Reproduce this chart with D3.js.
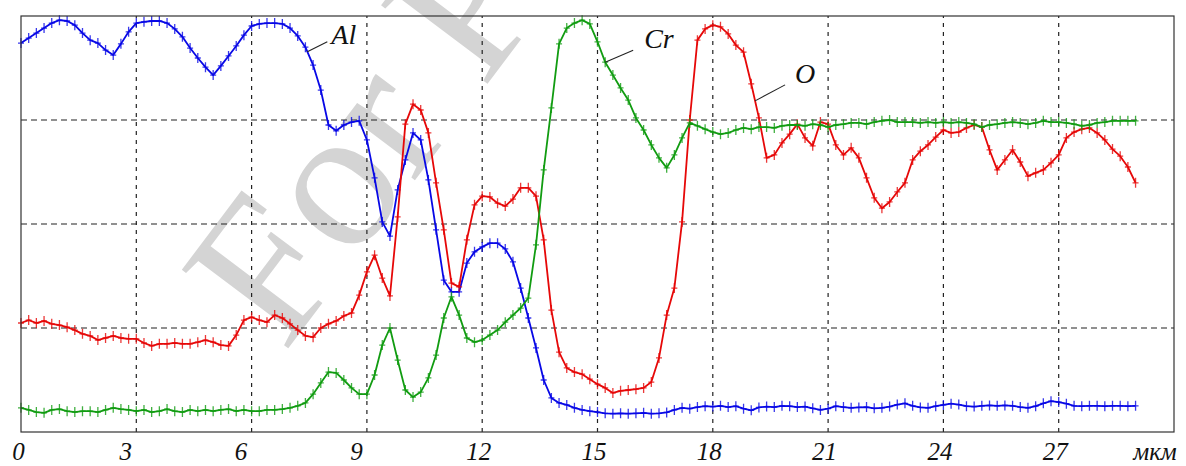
<!DOCTYPE html>
<html>
<head>
<meta charset="utf-8">
<script src="https://cdn.jsdelivr.net/npm/d3@7"></script>
<style>
  html, body { margin: 0; padding: 0; background: #fff; }
  svg { display: block; }
</style>
</head>
<body>
<svg id="chart" width="1186" height="466"></svg>
<script>
// Depth of each measurement, µm
const depth = [
  0.0, 0.2, 0.4, 0.6, 0.8, 1.0, 1.2, 1.4, 1.6, 1.8,
  2.0, 2.2, 2.4, 2.6, 2.8, 3.0, 3.2, 3.4, 3.6, 3.8,
  4.0, 4.2, 4.4, 4.6, 4.8, 5.0, 5.2, 5.4, 5.6, 5.8,
  6.0, 6.2, 6.4, 6.6, 6.8, 7.0, 7.2, 7.4, 7.6, 7.8,
  8.0, 8.2, 8.4, 8.6, 8.8, 9.0, 9.2, 9.4, 9.6, 9.8,
  10.0, 10.2, 10.4, 10.6, 10.8, 11.0, 11.2, 11.4, 11.6, 11.8,
  12.0, 12.2, 12.4, 12.6, 12.8, 13.0, 13.2, 13.4, 13.6, 13.8,
  14.0, 14.2, 14.4, 14.6, 14.8, 15.0, 15.2, 15.4, 15.6, 15.8,
  16.0, 16.2, 16.4, 16.6, 16.8, 17.0, 17.2, 17.4, 17.6, 17.8,
  18.0, 18.2, 18.4, 18.6, 18.8, 19.0, 19.2, 19.4, 19.6, 19.8,
  20.0, 20.2, 20.4, 20.6, 20.8, 21.0, 21.2, 21.4, 21.6, 21.8,
  22.0, 22.2, 22.4, 22.6, 22.8, 23.0, 23.2, 23.4, 23.6, 23.8,
  24.0, 24.2, 24.4, 24.6, 24.8, 25.0, 25.2, 25.4, 25.6, 25.8,
  26.0, 26.2, 26.4, 26.6, 26.8, 27.0, 27.2, 27.4, 27.6, 27.8,
  28.0, 28.2, 28.4, 28.6, 28.8, 29.0
];

// Relative signal intensity, % of full scale
const aluminium = [
  93.5, 94.7, 95.9, 97.1, 98.3, 99.0, 98.8, 97.8, 95.9, 94.2,
  93.5, 91.8, 90.6, 93.3, 96.2, 98.3, 98.6, 98.8, 98.8, 98.3,
  96.9, 95.0, 92.3, 89.9, 87.7, 85.8, 88.0, 90.4, 92.8, 95.4,
  97.6, 98.1, 98.3, 98.3, 98.1, 97.1, 95.2, 92.5, 88.2, 82.2,
  73.8, 72.4, 73.8, 74.5, 74.8, 70.2, 61.1, 50.5, 47.1, 58.2,
  65.4, 71.9, 70.2, 60.6, 48.6, 36.5, 33.7, 33.7, 40.6, 43.3,
  44.5, 45.4, 45.4, 44.0, 40.9, 34.6, 27.4, 20.2, 12.5, 8.2,
  7.0, 6.5, 5.8, 5.3, 5.0, 4.8, 4.5, 4.4, 4.5, 4.4,
  4.5, 4.6, 4.4, 4.5, 4.7, 5.3, 5.8, 5.6, 6.0, 6.2,
  6.1, 6.3, 6.0, 6.2, 5.6, 5.2, 5.9, 6.1, 6.0, 6.3,
  6.2, 6.0, 6.1, 5.7, 5.3, 5.6, 6.2, 6.0, 5.8, 5.9,
  6.0, 5.7, 5.8, 6.1, 6.6, 6.9, 6.3, 5.9, 5.8, 6.2,
  6.5, 6.8, 6.6, 6.2, 6.1, 6.3, 6.4, 6.3, 6.4, 6.3,
  6.0, 5.8, 6.2, 6.9, 7.4, 7.2, 6.8, 6.3, 6.2, 6.3,
  6.3, 6.2, 6.3, 6.3, 6.2, 6.3
];

const oxygen = [
  26.2, 26.9, 26.2, 26.7, 26.0, 25.7, 25.2, 24.5, 23.6, 23.1,
  22.1, 22.6, 23.1, 22.6, 22.4, 22.4, 21.4, 20.7, 21.2, 21.2,
  21.4, 21.2, 21.2, 21.6, 22.1, 21.6, 20.9, 20.7, 23.3, 26.9,
  27.6, 26.9, 26.4, 28.1, 27.4, 26.0, 24.5, 23.1, 22.8, 25.0,
  26.0, 26.7, 27.9, 28.6, 32.9, 38.5, 42.5, 37.0, 32.7, 51.7,
  74.0, 78.8, 77.4, 71.9, 59.9, 48.6, 35.8, 34.9, 46.2, 54.6,
  56.7, 56.5, 55.0, 54.3, 56.0, 58.7, 58.7, 56.7, 46.2, 29.3,
  19.2, 15.4, 14.4, 13.9, 12.7, 11.5, 10.6, 9.4, 9.9, 10.1,
  10.3, 10.6, 12.0, 17.8, 28.1, 34.6, 50.5, 75.0, 94.2, 96.9,
  97.8, 97.4, 95.7, 93.0, 91.3, 83.7, 75.5, 65.9, 66.6, 69.5,
  71.6, 74.0, 70.7, 68.8, 74.5, 74.0, 69.0, 66.6, 68.3, 65.9,
  61.1, 56.3, 53.8, 55.3, 57.7, 59.9, 65.4, 67.5, 69.0, 70.9,
  72.6, 71.9, 72.1, 73.1, 73.8, 73.3, 67.8, 63.0, 65.4, 67.8,
  64.9, 61.5, 62.3, 63.0, 64.7, 66.6, 70.7, 72.1, 72.8, 73.1,
  71.9, 70.2, 68.0, 66.3, 63.7, 59.9
];

const chromium = [
  5.8, 5.3, 4.8, 4.6, 5.3, 5.5, 5.0, 4.8, 5.0, 5.0,
  4.8, 5.3, 5.8, 5.5, 5.3, 5.0, 5.3, 4.8, 5.0, 5.5,
  5.0, 4.8, 5.3, 5.0, 5.3, 5.0, 5.3, 5.5, 5.0, 5.3,
  5.0, 5.0, 5.3, 5.3, 5.5, 5.8, 6.3, 7.0, 9.1, 11.8,
  14.4, 14.2, 12.5, 10.6, 9.1, 9.1, 13.7, 20.9, 25.0, 17.3,
  10.1, 8.4, 9.6, 13.0, 18.5, 27.4, 32.5, 28.1, 22.6, 21.6,
  22.1, 23.3, 24.5, 26.4, 28.1, 29.8, 32.2, 45.0, 63.0, 77.9,
  93.3, 97.1, 98.3, 99.0, 98.1, 93.8, 88.9, 85.8, 82.7, 79.8,
  75.5, 72.6, 69.0, 65.9, 63.5, 66.6, 70.7, 74.3, 73.6, 72.8,
  72.1, 71.6, 71.9, 72.6, 73.1, 72.8, 73.3, 73.3, 73.1, 73.6,
  73.8, 73.8, 73.6, 74.0, 73.8, 73.3, 73.8, 74.0, 74.3, 74.3,
  74.0, 74.5, 74.8, 75.0, 74.5, 74.5, 74.5, 74.3, 74.5, 74.3,
  74.5, 74.3, 74.5, 74.3, 74.0, 73.3, 73.8, 74.0, 74.3, 74.5,
  74.3, 74.0, 74.3, 74.8, 74.5, 74.5, 74.3, 74.0, 73.6, 73.8,
  74.3, 74.5, 74.8, 74.8, 74.8, 74.8
];

const xTickValues = [0, 3, 6, 9, 12, 15, 18, 21, 24, 27];
const yGridValues = [25, 50, 75];
const unitLabel = "мкм";
const watermarkText = "For Peer Review";

// Element label, colour, and depth where its callout touches the curve
const series = [
  { name: "Al", values: aluminium, color: "#0808e6", calloutAt: 7.45, lead: [20, -10], text: [24, -8] },
  { name: "O",  values: oxygen,    color: "#e60808", calloutAt: 19.1, lead: [30, -16], text: [40, -18] },
  { name: "Cr", values: chromium,  color: "#119c11", calloutAt: 15.2, lead: [28, -12], text: [39, -14] }
];

const svg = d3.select("#chart");
const margin = { left: 21, right: 12, top: 16, bottom: 34 };
const W = 1186, H = 466;

const x = d3.scaleLinear().domain([0, 30]).range([margin.left, W - margin.right]);
const y = d3.scaleLinear().domain([0, 100]).range([H - margin.bottom, margin.top]);

// Watermark behind the plot, clipped to the page
svg.append("defs").append("clipPath").attr("id", "page")
  .append("rect").attr("width", W).attr("height", H);
svg.append("g").attr("clip-path", "url(#page)")
  .append("text")
  .attr("transform", "translate(284,354) rotate(-53)")
  .attr("font-family", "Liberation Serif, Times New Roman, serif")
  .attr("font-size", 202)
  .attr("fill", "#d4d4d4")
  .text(watermarkText);

// Dashed grid
svg.append("g")
  .selectAll("line")
  .data(xTickValues.filter(d => d > 0))
  .join("line")
  .attr("x1", d => x(d)).attr("x2", d => x(d))
  .attr("y1", y(0)).attr("y2", y(100))
  .attr("stroke", "#222").attr("stroke-width", 1.2)
  .attr("stroke-dasharray", "4,5");

svg.append("g")
  .selectAll("line")
  .data(yGridValues)
  .join("line")
  .attr("x1", x(0)).attr("x2", x(30))
  .attr("y1", d => y(d)).attr("y2", d => y(d))
  .attr("stroke", "#222").attr("stroke-width", 1.2)
  .attr("stroke-dasharray", "6,4");

// Curves with "+" markers at each measurement
const line = d3.line().x((d, i) => x(depth[i])).y(d => y(d));
const plotOrder = ["Al", "O", "Cr"];
plotOrder.forEach(name => {
  const s = series.find(t => t.name === name);
  const g = svg.append("g");
  g.append("path")
    .attr("d", line(s.values))
    .attr("fill", "none")
    .attr("stroke", s.color)
    .attr("stroke-width", 1.8)
    .attr("stroke-linejoin", "round");
  g.append("path")
    .attr("d", s.values.map((v, i) => {
      const px = x(depth[i]), py = y(v);
      return `M${px - 3},${py}H${px + 3}M${px},${py - 5}V${py + 5}`;
    }).join(""))
    .attr("fill", "none")
    .attr("stroke", s.color)
    .attr("stroke-opacity", 0.8)
    .attr("stroke-width", 1.3);
});

// Frame
svg.append("rect")
  .attr("x", x(0)).attr("y", y(100))
  .attr("width", x(30) - x(0)).attr("height", y(0) - y(100))
  .attr("fill", "none").attr("stroke", "#333").attr("stroke-width", 1.2);

// Bottom axis labels
const axis = d3.axisBottom(x).tickValues(xTickValues).tickSize(0).tickFormat(d3.format("d"));
const axisG = svg.append("g")
  .attr("transform", `translate(0,${y(0)})`)
  .call(axis);
axisG.select(".domain").remove();
axisG.selectAll("text")
  .attr("font-family", "Liberation Serif, Times New Roman, serif")
  .attr("font-style", "italic")
  .attr("font-size", 25)
  .attr("fill", "#111")
  .attr("dy", 0)
  .attr("y", 28)
  .attr("dx", d => d === 0 ? -3 : (String(d).length === 1 ? -11 : -4));

svg.append("text")
  .attr("x", x(30) - 19)
  .attr("y", y(0) + 28)
  .attr("text-anchor", "middle")
  .attr("font-family", "Liberation Serif, Times New Roman, serif")
  .attr("font-style", "italic")
  .attr("font-size", 25)
  .attr("fill", "#111")
  .text(unitLabel);

// Callouts naming each element
const valueAt = (values, d) => {
  const i = d3.bisectRight(depth, d) - 1;
  const t = (d - depth[i]) / (depth[i + 1] - depth[i]);
  return values[i] + t * (values[i + 1] - values[i]);
};
series.forEach(s => {
  const ax = x(s.calloutAt), ay = y(valueAt(s.values, s.calloutAt));
  svg.append("line")
    .attr("x1", ax).attr("y1", ay)
    .attr("x2", ax + s.lead[0]).attr("y2", ay + s.lead[1])
    .attr("stroke", "#222").attr("stroke-width", 1.1);
  svg.append("text")
    .attr("x", ax + s.text[0]).attr("y", ay + s.text[1])
    .attr("font-family", "Liberation Serif, Times New Roman, serif")
    .attr("font-style", "italic")
    .attr("font-size", 28)
    .attr("fill", "#111")
    .text(s.name);
});
</script>
</body>
</html>
